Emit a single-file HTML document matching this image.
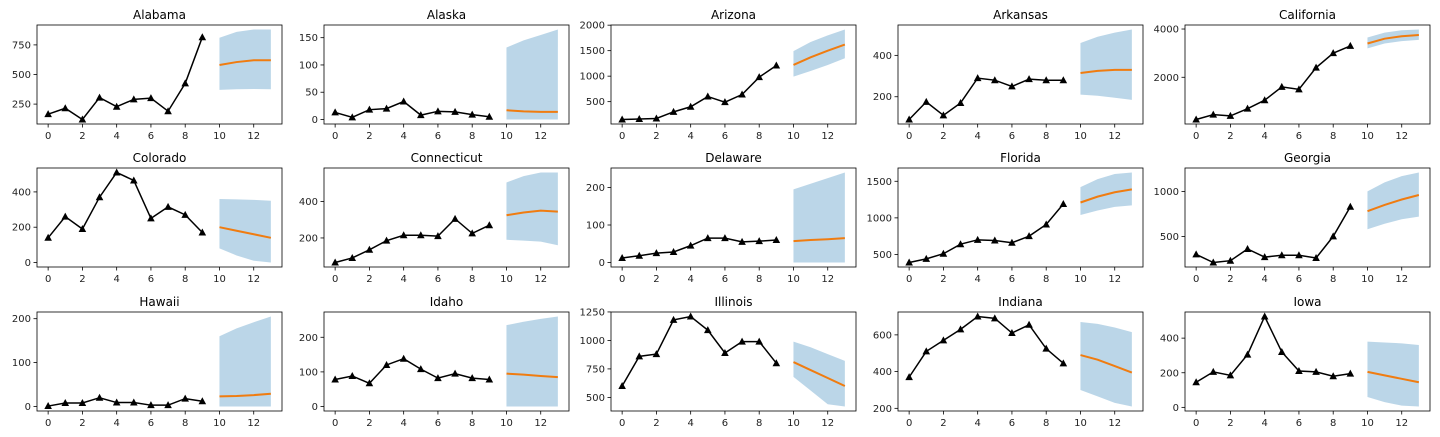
<!DOCTYPE html>
<html><head><meta charset="utf-8">
<style>
body{margin:0;background:#fff;width:1440px;height:433px;overflow:hidden;font-family:"DejaVu Sans","Liberation Sans",sans-serif;}
svg text{font-family:"DejaVu Sans","Liberation Sans",sans-serif;}
</style></head>
<body>
<svg id="chart" width="1440" height="433" xmlns="http://www.w3.org/2000/svg"></svg>
<script>
const states=["Alabama","Alaska","Arizona","Arkansas","California","Colorado","Connecticut","Delaware","Florida","Georgia","Hawaii","Idaho","Illinois","Indiana","Iowa"];
const observed=[
[165,215,120,305,228,290,300,190,425,815],
[13,4,18,20,33,8,15,14,9,5],
[150,160,170,300,400,600,490,640,980,1210],
[90,175,110,170,290,280,250,285,280,280],
[250,450,400,700,1050,1600,1500,2400,3000,3300],
[140,260,190,370,510,465,250,315,270,170],
[65,90,135,185,215,215,210,305,225,270],
[12,18,25,28,45,65,65,55,57,60],
[390,440,510,640,700,690,660,750,910,1190],
[300,210,230,360,270,290,290,260,500,830],
[1,8,8,20,9,9,3,3,18,12],
[78,88,67,120,138,108,82,95,82,78],
[600,860,880,1180,1210,1090,890,990,990,800],
[370,510,570,630,700,690,610,655,525,445],
[145,205,185,305,525,320,210,205,180,195]];
const forecast=[
[580,605,620,620],[17,15,14,14],[1220,1370,1500,1620],[315,325,330,330],[3400,3600,3700,3750],
[200,180,160,140],[325,340,350,345],[57,60,62,65],[1210,1290,1350,1390],[780,850,910,960],
[23,24,26,29],[95,92,88,85],[810,740,670,600],[490,465,430,395],[205,185,165,145]];
const upper=[
[810,860,880,880],[132,145,155,165],[1490,1670,1800,1915],[460,490,510,525],[3650,3850,3950,3980],
[360,358,355,350],[505,540,560,560],[195,210,225,240],[1420,1530,1600,1620],[1000,1100,1170,1210],
[160,178,192,205],[235,245,253,260],[990,940,880,820],[670,660,640,615],[380,375,370,360]];
const lower=[
[370,375,378,375],[0,0,0,0],[990,1100,1220,1350],[210,205,195,185],[3200,3400,3500,3550],
[80,40,10,0],[190,185,180,160],[0,0,0,0],[1040,1100,1150,1170],[580,640,690,720],
[0,0,0,0],[0,0,0,0],[680,560,440,420],[300,265,230,210],[60,30,10,5]];
const yTicks=[[250,500,750],[0,50,100,150],[500,1000,1500,2000],[200,400],[2000,4000],[0,200,400],[200,400],[0,100,200],[500,1000,1500],[500,1000],[0,100,200],[0,100,200],[500,750,1000,1250],[200,400,600],[0,200,400]];
const xTicks=[0,2,4,6,8,10,12];

const NS="http://www.w3.org/2000/svg";
const svg=document.getElementById('chart');
function mk(tag,attrs,parent){const e=document.createElementNS(NS,tag);for(const k in attrs)e.setAttribute(k,attrs[k]);parent.appendChild(e);return e;}
const W=245,H=99;
states.forEach((name,i)=>{
  const col=i%5,row=Math.floor(i/5);
  const L=37+col*287,T=[25,168,312][row];
  const g=mk('g',{},svg);
  
  
  const all=observed[i].concat(upper[i],lower[i],forecast[i]);
  let mn=Math.min(...all),mx=Math.max(...all);const r=mx-mn;mn-=r*0.05;mx+=r*0.05;
  const xs=v=>L+(v+0.65)/14.3*W;
  const ys=v=>T+H-(v-mn)/(mx-mn)*H;
  const t=mk('text',{x:L+W/2,y:T-6,'text-anchor':'middle','font-size':12,fill:'#000'},g);
  t.textContent=name;
  
  
  let pts=[];
  upper[i].forEach((v,k)=>pts.push(xs(10+k)+','+ys(v)));
  for(let k=3;k>=0;k--)pts.push(xs(10+k)+','+ys(lower[i][k]));
  const band=mk('polygon',{points:pts.join(' '),fill:'#1f77b4','fill-opacity':0.3},g);
  
  
  const fl=mk('polyline',{points:forecast[i].map((v,k)=>xs(10+k)+','+ys(v)).join(' '),fill:'none',stroke:'#f07c10','stroke-width':2},g);
  
  
  const ol=mk('polyline',{points:observed[i].map((v,k)=>xs(k)+','+ys(v)).join(' '),fill:'none',stroke:'#000','stroke-width':1.5},g);
  
  
  observed[i].forEach((v,k)=>{
    const x=xs(k),y=ys(v);
    const m=mk('polygon',{points:`${x},${y-4} ${x-3.8},${y+3} ${x+3.8},${y+3}`,fill:'#000'},g);
    
    
  });
  const fr=mk('rect',{x:L,y:T,width:W,height:H,fill:'none',stroke:'#000','stroke-width':0.8},g);
  
  
  xTicks.forEach(v=>{
    const x=xs(v);
    mk('line',{x1:x,x2:x,y1:T+H,y2:T+H+3.5,stroke:'#000','stroke-width':0.8},g);
    const tx=mk('text',{x:x,y:T+H+15,'text-anchor':'middle','font-size':10,fill:'#222'},g);
    tx.textContent=v;
    
    
  });
  yTicks[i].forEach(v=>{
    const y=ys(v);
    if(y<T-0.5||y>T+H+0.5)return;
    mk('line',{x1:L-3.5,x2:L,y1:y,y2:y,stroke:'#000','stroke-width':0.8},g);
    const ty=mk('text',{x:L-6,y:y+3.5,'text-anchor':'end','font-size':10,fill:'#222'},g);
    ty.textContent=v;
    
    
  });
});
</script>
</body></html>
